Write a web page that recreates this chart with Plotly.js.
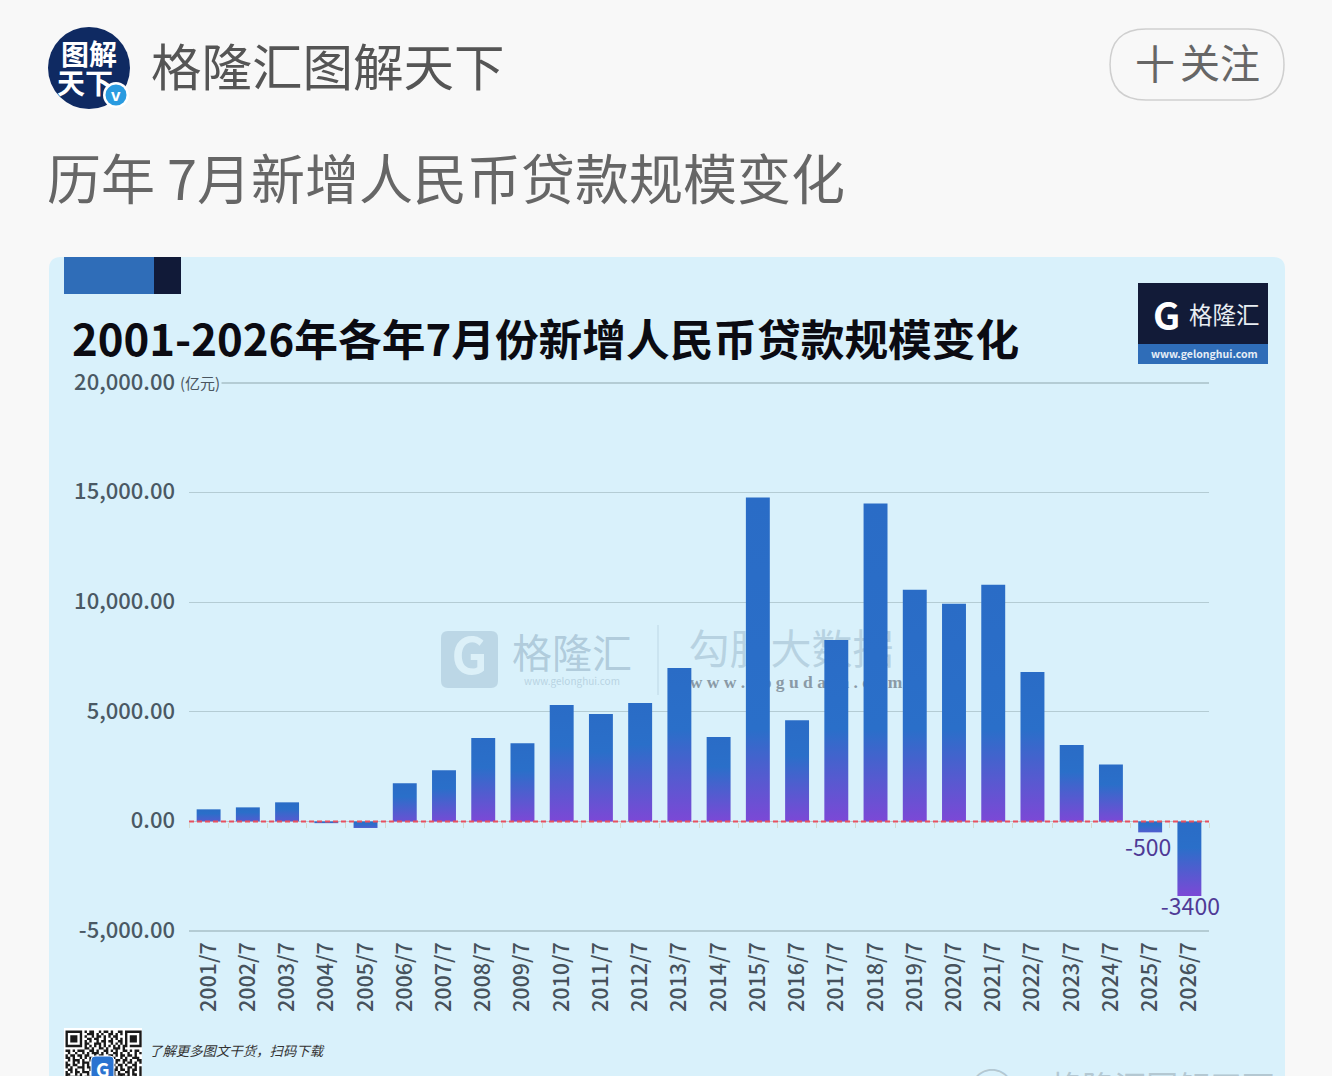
<!DOCTYPE html>
<html><head><meta charset="utf-8">
<script src="https://cdn.plot.ly/plotly-3.0.1.min.js"></script>
<style>html,body{margin:0;padding:0;background:#f8f8f8;overflow:hidden}#c{width:1332px;height:1076px}</style>
</head><body><div id="c"></div>
<script>
const categories=["2001/7","2002/7","2003/7","2004/7","2005/7","2006/7","2007/7","2008/7","2009/7","2010/7","2011/7","2012/7","2013/7","2014/7","2015/7","2016/7","2017/7","2018/7","2019/7","2020/7","2021/7","2022/7","2023/7","2024/7","2025/7","2026/7"];
const loans=[550,640,870,-80,-300,1740,2330,3800,3570,5310,4900,5400,7000,3850,14780,4620,8280,14500,10570,9930,10800,6820,3480,2600,-500,-3400];
const barLabels=["","","","","","","","","","","","","","","","","","","","","","","","","-500","-3400"];
const yTickVals=[-5000,0,5000,10000,15000,20000];
const yTickText=["-5,000.00","0.00","5,000.00","10,000.00","15,000.00","20,000.00"];
const qrRows=[
"#######.#.##..#.##.#..##.#######",
"#.....#..###.#.#..##.#.#.#.....#",
"#.###.#.#..#.##.#.#.##...#.###.#",
"#.###.#..##.##..#..#.#.#.#.###.#",
"#.###.#.#.#..#.##.##..##.#.###.#",
"#.....#.##..###.#..#.#.#.#.....#",
"#######.#.#.#.#.#.#.#.#.##.#####",
"........##.#..##.#..###.#.......",
"##.#.###..##.#..##.#.#..##.#.##.",
".#..#..#.#.###.#.#..##.#..#..#.#",
"#.##.##.##..#.##..##.#.##.##.#..",
"##.#..#.#.##.#.#.#.##..#.#..###.",
".#.###.#..#.##.##.#..##.##.#..##",
"#..#.#.###.#..#..###.#..#.##.#.#",
"##.##..#.#.##.#.##..#.##.#..##..",
"#.#..###.##..##.#.##.#.#..##.#.#",
".##.#..#..#.#.#.##..##.##.#.##.#",
"#.#.##.###.##...#.#.#.#..##.#..#",
"##..#.#..#.#..#..##.#.###.#.##.#",
"#.##.##.#.##.#.##.#..#.#.##..#.#"
];

// pixel helpers for page furniture
const L=189,R=1209,T=382,B=932;
const px=x=>(x-L)/(R-L), py=y=>(B-y)/(B-T);
const cjk='"Noto Sans CJK SC","Noto Sans",sans-serif';
function txt(x,y,text,size,color,opts={}){
  return Object.assign({xref:'paper',yref:'paper',x:px(x),y:py(y),text:text,showarrow:false,
    xanchor:'left',yanchor:'middle',font:{family:cjk,size:size,color:color}},opts);
}
function rect(x0,y0,x1,y1,fill,opts={}){
  return Object.assign({type:'rect',xref:'paper',yref:'paper',x0:px(x0),x1:px(x1),y0:py(y0),y1:py(y1),
    fillcolor:fill,line:{width:0},layer:'below'},opts);
}
function circ(cx,cy,r,fill,opts={}){
  return Object.assign({type:'circle',xref:'paper',yref:'paper',x0:px(cx-r),x1:px(cx+r),y0:py(cy+r),y1:py(cy-r),
    fillcolor:fill,line:{width:0},layer:'above'},opts);
}
function rrPath(x0,y0,x1,y1,r){
  const X=v=>px(v),Y=v=>py(v);
  return `M${X(x0+r)},${Y(y0)}L${X(x1-r)},${Y(y0)}Q${X(x1)},${Y(y0)} ${X(x1)},${Y(y0+r)}L${X(x1)},${Y(y1-r)}Q${X(x1)},${Y(y1)} ${X(x1-r)},${Y(y1)}L${X(x0+r)},${Y(y1)}Q${X(x0)},${Y(y1)} ${X(x0)},${Y(y1-r)}L${X(x0)},${Y(y0+r)}Q${X(x0)},${Y(y0)} ${X(x0+r)},${Y(y0)}Z`;
}
function wm(x0,y0,x1,y1,text,size,color,family,pos){
  return rect(x0,y0,x1,y1,'rgba(0,0,0,0)',{label:{text:text,textposition:pos||'middle center',
    font:{family:family||cjk,size:size,color:color}}});
}
function qrPath(){
  const m=2.38,x0=65.5,y0=1030.5;let d='';
  qrRows.forEach((row,j)=>{[...row].forEach((c,i)=>{ if(c==='#'){
    const a=px(x0+i*m),b=px(x0+(i+1)*m),e=py(y0+j*m),f=py(y0+(j+1)*m);
    d+=`M${a},${e}L${b},${e}L${b},${f}L${a},${f}Z`;
  }});});
  return d;
}

const wmC='rgba(150,180,200,0.62)';
const shapes=[
  {type:'path',xref:'paper',yref:'paper',path:rrPath(49,257,1285,1100,12),fillcolor:'#d9f1fb',line:{width:0},layer:'below'},
  rect(64,257,154,294,'#2f6db8'),
  rect(154,257,181,294,'#111a38'),
  rect(1138,283,1268,344,'#121b38'),
  rect(1138,344,1268,364,'#2f6db8'),
  {type:'path',xref:'paper',yref:'paper',path:rrPath(1110,29,1284,100,36),fillcolor:'rgba(0,0,0,0)',line:{color:'#cfcfcf',width:1.5},layer:'below'},
  // watermark, drawn behind the bars
  {type:'path',xref:'paper',yref:'paper',path:rrPath(441,631,498,688,7),fillcolor:'rgba(160,190,210,0.5)',line:{width:0},layer:'below'},
  wm(441,631,498,688,'<b>G</b>',50,'#dcf0f8'),
  wm(510,632,634,682,'格隆汇',40,wmC),
  wm(510,674,634,690,'www.gelonghui.com',10,'rgba(150,180,200,0.5)'),
  rect(657.5,625,658.5,695,'rgba(150,180,200,0.4)'),
  wm(686,630,896,676,'勾股大数据',41,'rgba(150,180,200,0.5)'),
  wm(690,671,902,689,'<b>w w w . g o g u d a t a . c o m</b>',17.5,'#8a9aa6','"Liberation Serif",serif'),
  // QR block
  rect(64,1028,142,1080,'#ffffff'),
  {type:'path',xref:'paper',yref:'paper',path:qrPath(),fillcolor:'#1a1a1a',line:{width:0},layer:'below'},
  {type:'path',xref:'paper',yref:'paper',path:rrPath(91,1056,114,1080,4),fillcolor:'#2a73d0',line:{color:'#ffffff',width:1},layer:'below'},
  // avatar
  circ(89,68,41,'#0f2a62'),
  circ(116,95,13,'#ffffff'),
  circ(116,95,10.5,'#2a9be0'),
  // zero line
  {type:'line',xref:'paper',yref:'y',x0:0,x1:1,y0:0,y1:0,line:{color:'#e8505f',width:2,dash:'5px,3px'},layer:'above'}
];
const annotations=[
  txt(149,64,'格隆汇图解天下',50.5,'#555555'),
  txt(45,176,'历年 7月新增人民币贷款规模变化',54,'#666666'),
  txt(1133,62,'十',40,'#666666'),
  txt(1178,61,'关注',40,'#666666'),
  txt(70,337,'<b>2001-2026年各年7月份新增人民币贷款规模变化</b>',43.7,'#0b0b12'),
  txt(178,382,'(亿元)',15,'#4a5560',{bgcolor:'#d9f1fb'}),
  txt(89,53,'<b>图解</b>',28,'#ffffff',{xanchor:'center'}),
  txt(85,82,'<b>天下</b>',28,'#ffffff',{xanchor:'center'}),
  txt(116,95,'<b>v</b>',17,'#ffffff',{xanchor:'center',font:{family:'"Liberation Sans",sans-serif',size:17,color:'#ffffff'}}),
  txt(1166,313,'<b>G</b>',38,'#ffffff',{xanchor:'center'}),
  txt(1187,314,'格隆汇',23.5,'#e8edf2'),
  txt(1204,353,'<b>www.gelonghui.com</b>',10.5,'#e6eef6',{xanchor:'center'}),
  txt(102.5,1068,'<b>G</b>',19,'#ffffff',{xanchor:'center'}),
  txt(147,1050,'<i>了解更多图文干货，扫码下载</i>',13.4,'#333333'),
  txt(165,1083,'<i><b>《格隆汇App》</b></i>',17,'#333333'),
  txt(1018,1085,'@格隆汇图解天下',32,'rgba(175,195,205,0.9)'),
  txt(992,1088,'◉',48,'rgba(175,195,205,0.9)',{xanchor:'center'})
];

const traces=[
  {type:'bar',x:categories,y:loans,text:barLabels,textposition:'outside',textangle:0,cliponaxis:false,constraintext:'none',
   textfont:{family:cjk,size:23,color:'#4f3a96'},outsidetextfont:{family:cjk,size:23,color:'#4f3a96'},
   marker:{color:'#2a6fc9',line:{width:0}},hoverinfo:'x+y',showlegend:false},
  {type:'scatter',mode:'markers',x:categories,y:categories.map(()=>null),xaxis:'x2',yaxis:'y',showlegend:false,hoverinfo:'skip'}
];
const layout={
  width:1332,height:1076,autosize:false,
  margin:{l:L,r:1332-R,t:T,b:1076-B,pad:0},
  paper_bgcolor:'#f8f8f8',plot_bgcolor:'rgba(0,0,0,0)',
  showlegend:false,bargap:0.39,
  font:{family:cjk},
  xaxis:{type:'category',range:[-0.5,25.5],categoryorder:'array',categoryarray:categories,dtick:1,tickangle:-90,
    showgrid:false,zeroline:false,showline:false,ticks:'',ticklabelstandoff:5,
    tickfont:{family:cjk,size:21.5,color:'#46525c',weight:500}},
  xaxis2:{type:'category',overlaying:'x',matches:'x',anchor:'free',position:0.2,side:'bottom',dtick:1,
    tickson:'boundaries',ticks:'outside',ticklen:5,tickcolor:'#d5d8cc',tickwidth:1,
    showticklabels:false,showgrid:false,zeroline:false,showline:false},
  yaxis:{range:[-5046,20046],tickmode:'array',tickvals:yTickVals,ticktext:yTickText,
    showgrid:true,gridcolor:'#b4ccd4',gridwidth:1.2,zeroline:false,showline:false,ticks:'',ticklabelstandoff:13,
    tickfont:{family:cjk,size:22,color:'#4a5964',weight:500}},
  shapes:shapes,annotations:annotations
};
const gd=document.getElementById('c');
Plotly.newPlot(gd,traces,layout,{displayModeBar:false,staticPlot:true}).then(()=>{
  const NS='http://www.w3.org/2000/svg';
  const paths=gd.querySelectorAll('.barlayer .point path');
  paths.forEach((p,i)=>{
    const svg=p.ownerSVGElement;
    let defs=svg.querySelector('defs#bargrads');
    if(!defs){defs=document.createElementNS(NS,'defs');defs.id='bargrads';svg.insertBefore(defs,svg.firstChild);}
    const h=p.getBBox().height;
    const start=Math.max(0.35,1-92/h);
    const k=Math.min(1,0.35+h/90);
    const mix=(a,b)=>Math.round(a+(b-a)*k);
    const end=`rgb(${mix(42,124)},${mix(111,72)},${mix(201,214)})`;
    const g=document.createElementNS(NS,'linearGradient');
    g.id='bg'+i;g.setAttribute('x1','0');g.setAttribute('x2','0');g.setAttribute('y1','0');g.setAttribute('y2','1');
    [[0,'#2a6cc6'],[start,'#2a6fc9'],[1,end]].forEach(([o,c])=>{
      const s=document.createElementNS(NS,'stop');s.setAttribute('offset',o);s.setAttribute('stop-color',c);g.appendChild(s);
    });
    defs.appendChild(g);
    p.style.fill=`url(#bg${i})`;
  });
  gd.querySelectorAll('.ytick text').forEach(t=>t.setAttribute('dy','-1'));
  gd.querySelectorAll('.barlayer .bartext').forEach(t=>{
    const v=t.textContent;
    if(v==='-500'){t.setAttribute('dy','-6');t.setAttribute('dx','-2');}
    if(v==='-3400'){t.setAttribute('dy','-11');t.setAttribute('dx','1');}
  });
});
</script></body></html>
